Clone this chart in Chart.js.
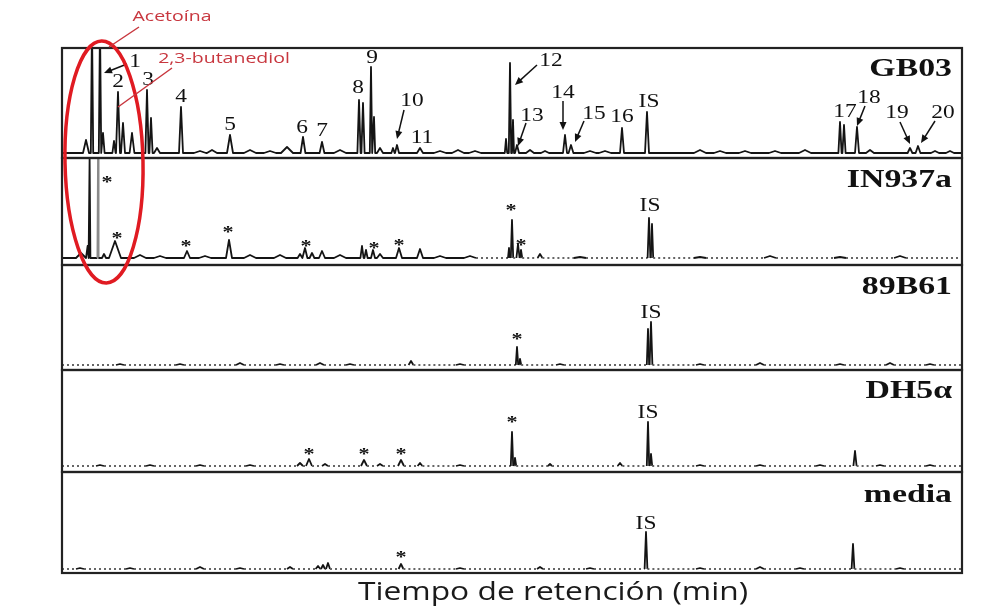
<!DOCTYPE html>
<html>
<head>
<meta charset="utf-8">
<script src="https://cdn.jsdelivr.net/npm/chart.js@4"></script>
<style>
  html, body { margin: 0; background: #fff; }
  canvas { display: block; }
</style>
</head>
<body>
<canvas id="gc" width="985" height="607"></canvas>
<script>
// retention time axis (min)
const timeMin = 0;
const timeMax = 45;

// peaks: [retention time, height, half width]
const gb03Peaks = [
  [1.2, 13, 0.15], [1.5, 130, 0.06], [1.9, 130, 0.06], [2.05, 20, 0.08],
  [2.6, 12, 0.08], [2.8, 61, 0.1], [3.05, 30, 0.1], [3.5, 20, 0.12],
  [4.25, 63, 0.08], [4.45, 35, 0.08], [4.75, 5, 0.15], [5.95, 46, 0.1],
  [6.9, 2, 0.3], [7.5, 3, 0.25], [8.4, 18, 0.15], [9.4, 3, 0.3],
  [10.4, 2, 0.3], [11.25, 6, 0.3], [12.05, 16, 0.12], [13.0, 11, 0.12],
  [13.9, 3, 0.3], [14.85, 53, 0.08], [15.05, 50, 0.08], [15.45, 86, 0.06],
  [15.6, 36, 0.06], [15.9, 5, 0.15], [16.55, 5, 0.08], [16.75, 8, 0.1],
  [17.9, 5, 0.15], [18.9, 2, 0.3], [19.8, 3, 0.3], [20.65, 2, 0.3],
  [22.2, 14, 0.06], [22.4, 90, 0.06], [22.55, 33, 0.05], [22.75, 8, 0.1],
  [23.4, 3, 0.2], [24.15, 2, 0.2], [25.15, 18, 0.1], [25.45, 8, 0.12],
  [26.4, 2, 0.3], [27.15, 2, 0.3], [28.0, 25, 0.1], [29.25, 41, 0.1],
  [31.9, 3, 0.3], [32.9, 2, 0.3], [34.15, 2, 0.3], [35.65, 2, 0.3],
  [37.15, 3, 0.3], [38.9, 31, 0.08], [39.1, 28, 0.08], [39.75, 26, 0.1],
  [40.4, 3, 0.2], [42.4, 5, 0.12], [42.8, 7, 0.12], [43.65, 2, 0.2], [44.4, 2, 0.2]
];
const in937aPeaks = [
  [0.95, 5, 0.25], [1.28, 12, 0.05], [1.38, 100, 0.04], [1.8, 100, 0.03],
  [2.1, 4, 0.1], [2.65, 17, 0.3], [3.9, 3, 0.3], [4.9, 2, 0.3],
  [6.25, 7, 0.15], [7.15, 2, 0.3], [8.35, 18, 0.15], [9.4, 3, 0.3],
  [10.9, 3, 0.3], [11.9, 4, 0.12], [12.15, 10, 0.12], [12.5, 5, 0.12],
  [13.0, 7, 0.15], [13.9, 3, 0.3], [15.0, 12, 0.08], [15.2, 8, 0.08],
  [15.55, 8, 0.1], [15.9, 4, 0.15], [16.85, 10, 0.15], [17.9, 9, 0.15],
  [18.9, 2, 0.3], [20.4, 2, 0.3], [22.35, 10, 0.05], [22.5, 38, 0.06],
  [22.8, 14, 0.08], [22.95, 8, 0.06], [23.9, 4, 0.12], [25.9, 1, 0.3],
  [29.35, 40, 0.07], [29.5, 34, 0.06], [31.9, 1, 0.3], [35.4, 2, 0.3],
  [38.9, 1, 0.3], [41.9, 2, 0.3]
];
const b61Peaks = [
  [2.9, 1, 0.2], [5.9, 1, 0.2], [8.9, 2, 0.2], [10.9, 1, 0.2], [12.9, 2, 0.2],
  [14.4, 1, 0.2], [17.45, 4, 0.12], [19.9, 1, 0.2], [22.75, 18, 0.06],
  [22.9, 6, 0.06], [24.9, 1, 0.2], [29.3, 36, 0.06], [29.45, 43, 0.07],
  [31.9, 1, 0.2], [34.9, 2, 0.2], [38.9, 1, 0.2], [41.4, 2, 0.2], [43.4, 1, 0.2]
];
const dh5aPeaks = [
  [1.9, 1, 0.2], [4.4, 1, 0.2], [6.9, 1, 0.2], [9.4, 1, 0.2], [11.9, 3, 0.15],
  [12.35, 7, 0.15], [13.15, 2, 0.15], [15.1, 6, 0.15], [15.9, 2, 0.15],
  [16.95, 6, 0.15], [17.9, 3, 0.12], [19.9, 1, 0.2], [22.5, 34, 0.06],
  [22.65, 8, 0.06], [24.4, 2, 0.1], [27.9, 3, 0.12], [29.3, 44, 0.06],
  [29.45, 12, 0.06], [31.9, 1, 0.2], [34.9, 1, 0.2], [37.9, 1, 0.2],
  [39.65, 15, 0.08], [40.9, 1, 0.2], [43.4, 1, 0.2]
];
const mediaPeaks = [
  [0.9, 1, 0.2], [3.4, 1, 0.2], [6.9, 2, 0.2], [8.9, 1, 0.2], [11.4, 2, 0.15],
  [12.8, 3, 0.12], [13.05, 4, 0.1], [13.3, 6, 0.1], [16.95, 5, 0.12],
  [19.9, 1, 0.2], [23.9, 2, 0.15], [26.4, 1, 0.2], [29.2, 37, 0.07],
  [31.9, 1, 0.2], [34.9, 2, 0.2], [36.9, 1, 0.2], [39.55, 25, 0.07], [41.9, 1, 0.2]
];

// peak labels: [text, retention time, height]
const gb03Labels = [
  ["1", 3.65, 91], ["2", 2.8, 71], ["3", 4.3, 73], ["4", 5.95, 56], ["5", 8.4, 28],
  ["6", 12.0, 25], ["7", 13.0, 22], ["8", 14.8, 65], ["9", 15.5, 95], ["10", 17.5, 52],
  ["11", 18.0, 15], ["12", 24.45, 92], ["13", 23.5, 37], ["14", 25.05, 60], ["15", 26.6, 39],
  ["16", 28.0, 36], ["IS", 29.35, 51], ["17", 39.15, 41], ["18", 40.35, 55],
  ["19", 41.75, 40], ["20", 44.05, 40]
];
const in937aLabels = [
  ["*", 2.25, 78], ["*", 2.75, 22], ["*", 6.2, 14], ["*", 8.3, 28], ["*", 12.2, 14],
  ["*", 15.6, 12], ["*", 16.85, 15], ["*", 22.45, 50], ["*", 22.95, 15], ["IS", 29.4, 52]
];
const b61Labels = [["*", 22.75, 28], ["IS", 29.45, 52]];
const dh5aLabels = [["*", 12.35, 14], ["*", 15.1, 14], ["*", 16.95, 14], ["*", 22.5, 46], ["IS", 29.3, 53]];
const mediaLabels = [["*", 16.95, 14], ["IS", 29.2, 45]];

// arrows in the GB03 trace: [from time, from height, to time, to height]
const gb03Arrows = [
  [3.25, 89, 2.1, 80], [17.1, 43, 16.75, 14], [23.75, 88, 22.65, 68],
  [23.2, 30, 22.8, 7], [25.05, 52, 25.05, 23], [26.1, 32, 25.65, 11],
  [40.15, 47, 39.75, 27], [41.9, 31, 42.4, 9], [43.65, 32, 42.95, 10]
];

const sampleNames = ["GB03", "IN937a", "89B61", "DH5α", "media"];
const xTitle = "Tiempo de retención (min)";

// panel setup, top to bottom
const panels = [
  { id: "yGB03", peaks: gb03Peaks, labels: gb03Labels, arrows: gb03Arrows, min: -5, max: 105, weight: 110, nameAt: 84, dashFrom: Infinity, faint: null },
  { id: "yIN937a", peaks: in937aPeaks, labels: in937aLabels, arrows: [], min: -7, max: 100, weight: 107, nameAt: 78, dashFrom: 20, faint: 1.8 },
  { id: "y89B61", peaks: b61Peaks, labels: b61Labels, arrows: [], min: -5, max: 100, weight: 105, nameAt: 78, dashFrom: 0, faint: null },
  { id: "yDH5a", peaks: dh5aPeaks, labels: dh5aLabels, arrows: [], min: -6, max: 96, weight: 102, nameAt: 75, dashFrom: 0, faint: null },
  { id: "ymedia", peaks: mediaPeaks, labels: mediaLabels, arrows: [], min: -4, max: 97, weight: 101, nameAt: 74, dashFrom: 0, faint: null }
];

// each peak drawn as a narrow spike on the baseline
function trace(peaks) {
  const pts = [{ x: timeMin, y: 0 }];
  peaks.forEach(([t, h, w]) => {
    pts.push({ x: t - w, y: 0 }, { x: t, y: h }, { x: t + w, y: 0 });
  });
  pts.push({ x: timeMax, y: 0 });
  return pts;
}

const isBase = (ctx, p) => ctx.p0.parsed.y === 0 && ctx.p1.parsed.y === 0 && ctx.p0.parsed.x >= p.dashFrom;
const isFaint = (ctx, p) => ctx.p0.parsed.x === p.faint || ctx.p1.parsed.x === p.faint;

const datasets = panels.map((p) => ({
  data: trace(p.peaks),
  yAxisID: p.id,
  borderColor: "#141414",
  borderWidth: 1.8,
  borderJoinStyle: "round",
  pointRadius: 0,
  tension: 0,
  fill: false,
  segment: {
    borderDash: (ctx) => (isBase(ctx, p) ? [2, 3] : undefined),
    borderColor: (ctx) => (isBase(ctx, p) ? "#666" : isFaint(ctx, p) ? "#8a8a8a" : undefined),
  },
}));

const scales = {
  x: {
    type: "linear",
    min: timeMin,
    max: timeMax,
    ticks: { display: false },
    grid: { display: false, drawTicks: false },
    border: { display: false },
  },
};
// stacked axes are placed bottom-up, so add them in reverse
panels.slice().reverse().forEach((p) => {
  scales[p.id] = {
    type: "linear",
    position: "left",
    stack: "traces",
    stackWeight: p.weight,
    min: p.min,
    max: p.max,
    ticks: { display: false },
    grid: { display: false, drawTicks: false },
    border: { display: false },
  };
});

function stretchText(ctx, txt, x, y, font, align, sx, color) {
  ctx.save();
  ctx.font = font;
  ctx.fillStyle = color;
  ctx.textAlign = align;
  ctx.textBaseline = "middle";
  ctx.translate(x, y);
  ctx.scale(sx, 1);
  ctx.fillText(txt, 0, 0);
  ctx.restore();
}

function arrow(ctx, x1, y1, x2, y2) {
  const a = Math.atan2(y2 - y1, x2 - x1);
  ctx.beginPath();
  ctx.moveTo(x1, y1);
  ctx.lineTo(x2 - 5 * Math.cos(a), y2 - 5 * Math.sin(a));
  ctx.stroke();
  ctx.beginPath();
  ctx.moveTo(x2, y2);
  ctx.lineTo(x2 - 8 * Math.cos(a) + 3.5 * Math.sin(a), y2 - 8 * Math.sin(a) - 3.5 * Math.cos(a));
  ctx.lineTo(x2 - 8 * Math.cos(a) - 3.5 * Math.sin(a), y2 - 8 * Math.sin(a) + 3.5 * Math.cos(a));
  ctx.closePath();
  ctx.fill();
}

const decor = {
  id: "decor",
  afterDatasetsDraw(chart) {
    const { ctx, chartArea, scales: s } = chart;
    const x = s.x;

    // panel frames
    ctx.save();
    ctx.strokeStyle = "#222";
    ctx.lineWidth = 2.2;
    panels.forEach((p) => {
      const ys = s[p.id];
      ctx.strokeRect(chartArea.left, ys.top, chartArea.right - chartArea.left, ys.bottom - ys.top);
    });
    ctx.restore();

    // peak labels, arrows, sample names
    ctx.save();
    ctx.strokeStyle = "#111";
    ctx.fillStyle = "#111";
    ctx.lineWidth = 1.5;
    panels.forEach((p, i) => {
      const ys = s[p.id];
      p.labels.forEach(([txt, t, v]) => {
        const star = txt === "*";
        stretchText(ctx, txt, x.getPixelForValue(t), ys.getPixelForValue(v) + (star ? 3 : 0),
          star ? "bold 17px 'Liberation Serif'" : "18px 'Liberation Serif'", "center", 1.3, "#111");
      });
      p.arrows.forEach(([t1, v1, t2, v2]) => {
        arrow(ctx, x.getPixelForValue(t1), ys.getPixelForValue(v1), x.getPixelForValue(t2), ys.getPixelForValue(v2));
      });
      stretchText(ctx, sampleNames[i], chartArea.right - 10, ys.getPixelForValue(p.nameAt),
        "bold 26px 'Liberation Serif'", "right", 1.3, "#111");
    });
    ctx.restore();

    // red annotations (acetoin / 2,3-butanediol)
    const y1 = s[panels[0].id];
    ctx.save();
    ctx.strokeStyle = "#e01b22";
    ctx.lineWidth = 3.5;
    ctx.beginPath();
    ctx.ellipse(x.getPixelForValue(2.1), y1.getPixelForValue(-9), 39, 121, -0.02, 0, Math.PI * 2);
    ctx.stroke();
    ctx.strokeStyle = "#c8373f";
    ctx.lineWidth = 1.5;
    ctx.beginPath();
    ctx.moveTo(x.getPixelForValue(3.85), y1.getPixelForValue(126));
    ctx.lineTo(x.getPixelForValue(2.35), y1.getPixelForValue(106));
    ctx.moveTo(x.getPixelForValue(5.5), y1.getPixelForValue(85));
    ctx.lineTo(x.getPixelForValue(2.8), y1.getPixelForValue(46));
    ctx.stroke();
    ctx.restore();
    stretchText(ctx, "Acetoína", x.getPixelForValue(5.5), y1.getPixelForValue(136), "15px 'Open Sans'", "center", 1.3, "#c8373f");
    stretchText(ctx, "2,3-butanediol", x.getPixelForValue(8.1), y1.getPixelForValue(94), "15px 'Open Sans'", "center", 1.3, "#c8373f");

    // axis title
    stretchText(ctx, xTitle, x.getPixelForValue(24.55), chartArea.bottom + 20,
      "25px 'Open Sans'", "center", 1.27, "#1a1a1a");
  },
};

new Chart(document.getElementById("gc"), {
  type: "line",
  data: { datasets },
  options: {
    responsive: false,
    animation: false,
    layout: { padding: { left: 62, right: 23, top: 48, bottom: 34 } },
    plugins: { legend: { display: false }, tooltip: { enabled: false } },
    scales,
  },
  plugins: [decor],
});
</script>
</body>
</html>
